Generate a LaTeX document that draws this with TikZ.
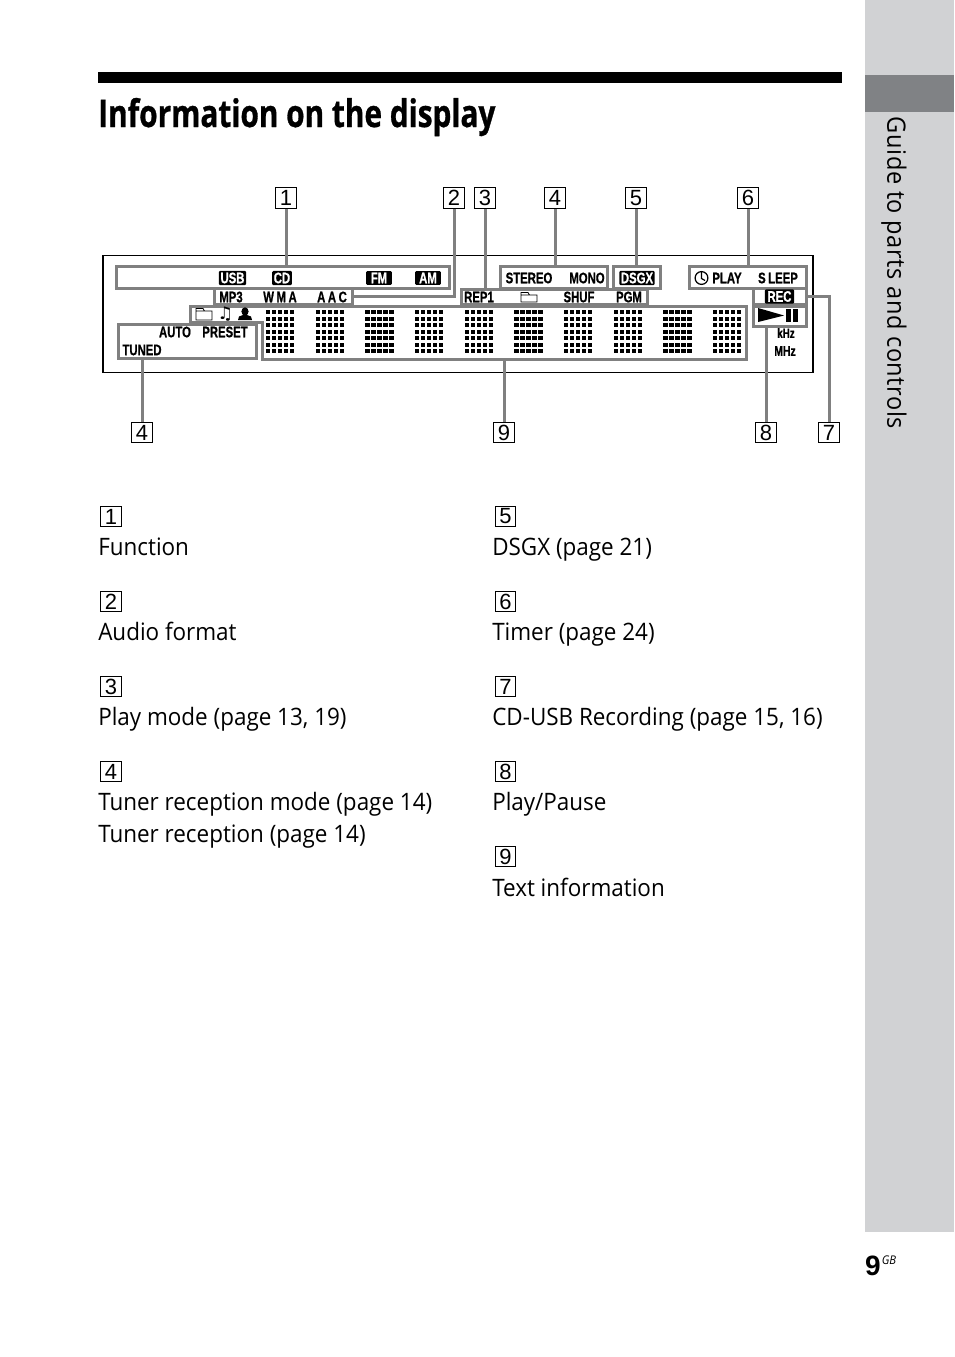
\documentclass[tikz,border=0pt]{standalone}
\usepackage{fontspec}
\usepackage{tikz}
\usetikzlibrary{fit, calc}
\setmainfont{Open Sans}
\newfontfamily\bodyfont[FakeStretch=0.935]{Open Sans}
\newfontfamily\sidefont[FakeStretch=0.93, LetterSpace=2.2]{Open Sans}
\newfontfamily\headfont[FakeStretch=0.784, BoldFeatures={FakeStretch=0.784, FakeBold=0.8}]{Open Sans}
\newfontfamily\lcdfont[FakeStretch=0.74, BoldFeatures={FakeStretch=0.74, FakeBold=0.7}]{Liberation Sans}
\newfontfamily\numfont{Liberation Sans}
\newfontfamily\symfont{DejaVu Sans}
\definecolor{sidegray}{HTML}{D1D2D4}
\definecolor{tabgray}{HTML}{808285}
\definecolor{framegray}{HTML}{808080}

\begin{document}
\begin{tikzpicture}[
            x=0.75pt, y=-0.75pt,
            badge/.style={draw=black, fill=white, line width=0.8pt, minimum size=15.5pt, inner sep=0pt, font=\fontsize{16.5}{17}\numfont},
            legend/.style={anchor=base west, inner sep=0pt, font=\fontsize{18}{22}\bodyfont},
            frame/.style={draw=framegray, line width=2.25pt, inner sep=0pt, outer sep=0pt},
            conn/.style={draw=framegray, line width=2.25pt},
            lcd/.style={inner sep=0pt, font=\fontsize{11.5}{12}\lcdfont\bfseries},
            inv/.style={lcd, fill=black, text=white, rounded corners=0.8pt, inner xsep=1.2pt, inner ysep=1.2pt},
            icon/.style={draw=black, line width=0.6pt}
        ]
            \useasboundingbox (0,0) rectangle (954,1357);
            \fill[white] (0,0) rectangle (954,1357);

            % Side strip
            \fill[sidegray] (865,0) rectangle (954,1232);
            \fill[tabgray] (865,75) rectangle (954,112);
            \node[rotate=-90, inner sep=0pt, font=\fontsize{19}{22}\sidefont] (side) at (894,273) {Guide to parts and controls};
            \node[anchor=base east, inner sep=0pt, font=\fontsize{21}{22}\numfont\bfseries] (pagenum) at (881,1275) {9};
            \node[anchor=base west, inner sep=0pt, font=\fontsize{9}{10}\bodyfont\itshape] (pagegb) at (881.5,1264) {GB};

            % Heading
            \fill[black] (98,72) rectangle (842,83);
            \node[anchor=base west, inner sep=0pt, font=\fontsize{28.5}{32}\headfont\bfseries] (title) at (98,127) {Information on the display};

            % Display outline
            \node[draw=black, line width=0.9pt, inner sep=0pt, outer sep=0pt, fit={(103,255.5) (813,372.5)}] (display) {};

            % Text matrix
            \foreach \col in {0,...,9}
                \foreach \i in {0,...,4}
                    \foreach \j in {0,...,6}
                        \fill[black] ({266+49.65*\col+6*\i},{310+6.55*\j}) rectangle ++(4.3,4);

            % Frames
            \node[frame, fit={(116,266) (449,288)}] (funcframe) {};
            \node[frame, fit={(214,288) (352,304)}] (audioframe) {};
            \node[frame, fit={(461,289) (647,304)}] (modeframe) {};
            \node[frame, fit={(500,266) (607,288)}] (stereoframe) {};
            \node[frame, fit={(613,266) (660,288)}] (dsgxframe) {};
            \node[frame, fit={(689,266) (806,288)}] (timerframe) {};
            \node[frame, fit={(753,288) (806,304)}] (recframe) {};
            \node[frame, fit={(753,306) (806,326)}] (playframe) {};
            \node[frame, fit={(118,324) (256,358)}] (tunedframe) {};
            \coordinate (textbase) at (504,359);
            \draw[conn] (190,322) -- (190,306) -- (746,306) -- (746,359) -- (textbase) -- (262,359) -- (262,322) -- cycle;

            % Display labels
            \node[inv] (usb) at (232.5,278) {USB};
            \node[inv] (cd) at (282,278) {CD};
            \node[inv, inner xsep=3.5pt] (fm) at (379,278) {FM};
            \node[inv, inner xsep=3pt] (am) at (428,278) {AM};
            \node[lcd] (mp3) at (231,297) {MP3};
            \node[lcd] (wma) at (280,297) {W\,M\,A};
            \node[lcd] (aac) at (332,297) {A\,A\,C};
            \node[lcd] (auto) at (175,332) {AUTO};
            \node[lcd] (preset) at (225,332) {PRESET};
            \node[lcd] (tuned) at (142,350) {TUNED};
            \node[lcd] (stereo) at (529,278) {STEREO};
            \node[lcd] (mono) at (587,278) {MONO};
            \node[inv] (dsgx) at (637,278) {DSGX};
            \node[lcd] (rep) at (479,297) {REP1};
            \node[lcd] (shuf) at (579,297) {SHUF};
            \node[lcd] (pgm) at (629,297) {PGM};
            \node[lcd] (playlbl) at (727,278) {PLAY};
            \node[lcd] (sleep) at (778,278) {S\,LEEP};
            \node[inv, inner xsep=2pt] (rec) at (779.5,296.5) {REC};
            \node[lcd, font=\fontsize{10}{10}\lcdfont\bfseries] (khz) at (786,333) {kHz};
            \node[lcd, font=\fontsize{10.5}{10}\lcdfont\bfseries] (mhz) at (785,351) {MHz};
            \node[inner sep=0pt, font=\fontsize{13}{13}\symfont] (note) at (225.5,314) {♫};

            % Icons
            \draw[icon] (196,320) -- (196,308.5) -- (203,308.5) -- (204.5,311) -- (212,311) -- (212,320) -- cycle (196,311) -- (204.5,311);
            \draw[icon] (521,302) -- (521,292.5) -- (528,292.5) -- (529.5,295) -- (537,295) -- (537,302) -- cycle (521,295) -- (529.5,295);
            \fill[black] (245,311.5) ellipse (3.6 and 4.2);
            \fill[black] (238,320) -- (239,316.5) -- (243,315) -- (247,315) -- (251,316.5) -- (252,320) -- cycle;
            \draw[icon, line width=0.9pt] (701.5,278) circle (6.4);
            \draw[icon, line width=0.9pt] (701.5,271.5) -- (701.5,278.5) -- (705,280.5);
            \fill[black] (758,308) -- (784,315.5) -- (758,322) -- cycle;
            \fill[black] (786,309) rectangle (791,322);
            \fill[black] (793,309) rectangle (798,322);

            % Number badges
            \node[badge] (n1) at (286,198) {1};
            \node[badge] (n2) at (454,198) {2};
            \node[badge] (n3) at (485,198) {3};
            \node[badge] (n4) at (555,198) {4};
            \node[badge] (n5) at (636,198) {5};
            \node[badge] (n6) at (748,198) {6};
            \node[badge] (n4b) at (142,432.5) {4};
            \node[badge] (n9) at (504,432.5) {9};
            \node[badge] (n8) at (766,432.5) {8};
            \node[badge] (n7) at (829,432.5) {7};

            % Connectors
            \draw[conn] (n1.south) -- (n1.south |- funcframe.north);
            \draw[conn] (n2.south) |- (audioframe.east);
            \draw[conn] (n3.south) -- (n3.south |- modeframe.north);
            \draw[conn] (n4.south) -- (n4.south |- stereoframe.north);
            \draw[conn] (n5.south) -- (n5.south |- dsgxframe.north);
            \draw[conn] (n6.south) -- (n6.south |- timerframe.north);
            \draw[conn] (n7.north) |- (recframe.east);
            \draw[conn] (n8.north) -- (n8.north |- playframe.south);
            \draw[conn] (n9.north) -- (textbase);
            \draw[conn] (n4b.north) -- (n4b.north |- tunedframe.south);

            % Left list
            \node[badge] (k1) at (111,516.5) {1};
            \node[legend] (func) at (98,555) {Function};
            \node[badge] (k2) at (111,601.5) {2};
            \node[legend] (audio) at (98,640) {Audio format};
            \node[badge] (k3) at (111,686.5) {3};
            \node[legend] (mode) at (98,725) {Play mode (page 13, 19)};
            \node[badge] (k4) at (111,771.5) {4};
            \node[legend] (tuner) at (98,810) {Tuner reception mode (page 14)};
            \node[legend] (recep) at (98,842) {Tuner reception (page 14)};

            % Right list
            \node[badge] (k5) at (505.5,516.5) {5};
            \node[legend] (dsgxtxt) at (492,555) {DSGX (page 21)};
            \node[badge] (k6) at (505.5,601.5) {6};
            \node[legend] (timer) at (492,640) {Timer (page 24)};
            \node[badge] (k7) at (505.5,686.5) {7};
            \node[legend] (cdusb) at (492,725) {CD-USB Recording (page 15, 16)};
            \node[badge] (k8) at (505.5,771.5) {8};
            \node[legend] (pause) at (492,810) {Play/Pause};
            \node[badge] (k9) at (505.5,856.5) {9};
            \node[legend] (text) at (492,896) {Text information};
        \end{tikzpicture}
\end{document}
